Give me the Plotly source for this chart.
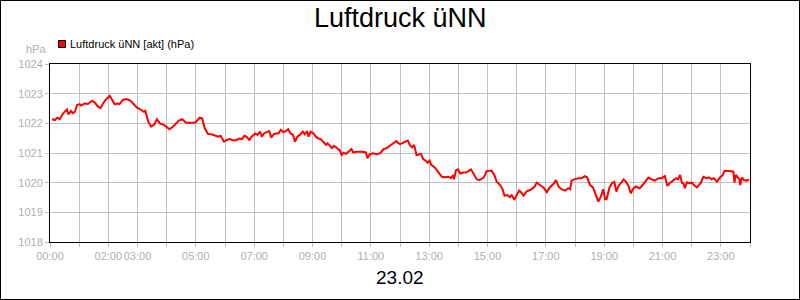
import plotly.graph_objects as go
import pandas as pd

DAY = "2021-02-23"
times = [
    "00:04","00:10","00:15","00:20","00:27","00:35","00:38","00:43","00:47","00:51","00:56",
    "01:01","01:04","01:11","01:18","01:27","01:32","01:39","01:44","01:49","01:56",
    "02:03","02:08","02:13","02:19","02:23","02:30","02:37","02:46","02:53","02:59",
    "03:08","03:13","03:16","03:22","03:28","03:35","03:40","03:46","03:55",
    "04:06","04:15","04:25","04:32","04:40","04:51","04:59",
    "05:08","05:13","05:18","05:25","05:32","05:39","05:46","05:51","05:56","05:58",
    "06:04","06:10","06:17","06:24","06:29","06:35","06:40","06:44","06:50","06:55",
    "07:02","07:07","07:12","07:16","07:20","07:26","07:31","07:35","07:40","07:45","07:50","07:55",
    "08:00","08:05","08:10","08:15","08:20","08:24","08:29","08:34","08:40","08:44","08:49","08:52","08:56",
    "09:02","09:07","09:12","09:17","09:22","09:28","09:31","09:36","09:40","09:44","09:50","09:53","09:56",
    "10:00","10:04","10:09","10:14","10:20","10:24","10:31","10:41","10:50","10:53","10:58",
    "11:05","11:12","11:19","11:26","11:32","11:40","11:46","11:53","11:55",
    "12:00","12:07","12:16","12:20","12:25","12:29","12:34","12:39","12:43","12:48","12:53","12:57",
    "13:01","13:04","13:11","13:17","13:26","13:32","13:40","13:45","13:49","13:51","13:55","13:59",
    "14:04","14:10","14:17","14:26","14:33","14:38","14:44","14:52","14:55","14:58",
    "15:08","15:14","15:19","15:26","15:31","15:35","15:41","15:46","15:50","15:55",
    "16:00","16:05","16:10","16:14","16:20","16:31","16:37","16:41","16:48","16:55",
    "17:02","17:08","17:16","17:21","17:26","17:32","17:40","17:46","17:50","17:53",
    "18:00","18:07","18:14","18:20","18:25","18:31","18:37","18:41","18:48","18:53","18:58",
    "19:02","19:05","19:11","19:16","19:21","19:25","19:29","19:36","19:40","19:45","19:50","19:55","19:59",
    "20:05","20:13","20:19","20:26","20:31","20:38","20:44","20:52","20:58",
    "21:05","21:10","21:16","21:22","21:28","21:32","21:36","21:40","21:43","21:46","21:50","21:55",
    "22:00","22:07","22:11","22:19","22:24","22:31","22:36","22:41","22:46","22:52","22:57",
    "23:04","23:08","23:16","23:22","23:26","23:28","23:31","23:34","23:38","23:40","23:43","23:47","23:53","23:58",
]
pressure = [
    1022.14,1022.11,1022.19,1022.14,1022.34,1022.47,1022.30,1022.42,1022.34,1022.39,1022.62,
    1022.65,1022.60,1022.67,1022.65,1022.76,1022.70,1022.56,1022.51,1022.67,1022.82,
    1022.93,1022.79,1022.64,1022.67,1022.65,1022.79,1022.82,1022.76,1022.64,1022.53,
    1022.45,1022.39,1022.42,1022.06,1021.89,1021.97,1022.14,1022.00,1021.94,
    1021.80,1021.92,1022.09,1022.14,1022.02,1022.02,1022.03,
    1022.19,1022.17,1021.85,1021.64,1021.63,1021.58,1021.55,1021.58,1021.46,1021.38,
    1021.44,1021.47,1021.42,1021.44,1021.49,1021.47,1021.58,1021.55,1021.44,1021.55,
    1021.66,1021.61,1021.72,1021.55,1021.66,1021.70,1021.74,1021.52,1021.63,1021.66,1021.66,1021.78,
    1021.70,1021.74,1021.80,1021.66,1021.61,1021.38,1021.55,1021.61,1021.72,1021.63,1021.74,1021.55,1021.72,
    1021.66,1021.55,1021.49,1021.47,1021.38,1021.27,1021.33,1021.25,1021.16,1021.24,1021.18,1021.12,1021.10,
    1020.93,1021.01,1020.97,1021.04,1021.13,1021.02,1021.04,1021.04,1021.02,1020.82,1020.96,
    1020.99,1020.96,1020.99,1021.13,1021.16,1021.27,1021.33,1021.40,1021.35,
    1021.30,1021.35,1021.42,1021.27,1021.19,1021.27,1020.93,1020.95,1020.97,1020.79,1020.74,1020.67,
    1020.74,1020.60,1020.52,1020.40,1020.20,1020.18,1020.20,1020.15,1020.26,1020.11,1020.41,1020.45,
    1020.31,1020.34,1020.35,1020.45,1020.26,1020.11,1020.09,1020.17,1020.26,1020.39,
    1020.41,1020.26,1020.03,1019.92,1019.78,1019.56,1019.58,1019.51,1019.58,1019.42,
    1019.58,1019.73,1019.66,1019.56,1019.70,1019.78,1019.87,1020.00,1019.92,1019.84,
    1019.68,1019.84,1019.96,1020.09,1019.87,1019.78,1019.73,1019.81,1019.78,1020.07,
    1020.12,1020.15,1020.15,1020.22,1020.18,1019.92,1019.84,1019.64,1019.36,1019.53,1019.78,
    1019.44,1019.44,1019.84,1019.98,1020.03,1019.70,1019.87,1020.01,1020.11,1020.03,1019.89,1019.64,1019.78,
    1019.87,1019.81,1019.92,1020.09,1020.17,1020.11,1020.07,1020.15,1020.15,
    1020.22,1019.89,1020.00,1020.09,1020.15,1020.11,1020.26,1020.00,1019.98,1019.81,1020.01,1019.98,
    1020.00,1019.89,1019.84,1020.00,1020.20,1020.15,1020.18,1020.11,1020.15,1020.03,1020.15,
    1020.26,1020.40,1020.39,1020.39,1020.37,1020.00,1020.26,1020.20,1020.11,1019.92,1020.18,1020.09,1020.07,1020.11,
]
tick_hours = list(range(25))
tick_labels = ["00:00","","02:00","03:00","","05:00","","07:00","","09:00","","11:00","",
               "13:00","","15:00","","17:00","","19:00","","21:00","","23:00",""]
y_ticks = [1018, 1019, 1020, 1021, 1022, 1023, 1024]

title_text = "Luftdruck üNN"
date_text = "23.02"
legend_text = "Luftdruck üNN [akt] (hPa)"
unit_text = "hPa"

x = pd.to_datetime([f"{DAY} {t}" for t in times])
day0 = pd.Timestamp(DAY)
tickvals = [day0 + pd.Timedelta(hours=h) for h in tick_hours]

FONT = "Liberation Sans, Arial, sans-serif"
GRAY = "#b0b0b0"
GRID = "#c0c0c0"

fig = go.Figure()
fig.add_trace(go.Scatter(x=x, y=pressure, mode="lines",
                         line=dict(color="#ff0000", width=2), showlegend=False))

W, H = 800, 300
L, R, T, B = 50, 50, 64, 58
pw, ph = W - L - R, H - T - B

def px(xp):
    return (xp - L) / pw

def py(yp):
    return (H - B - yp) / ph

fig.update_layout(
    width=W, height=H,
    margin=dict(l=L, r=R, t=T, b=B),
    paper_bgcolor="white", plot_bgcolor="white",
    font=dict(family=FONT, size=11, color=GRAY),
    xaxis=dict(range=[tickvals[0], tickvals[-1]], tickvals=tickvals, ticktext=tick_labels,
               tickangle=0,
               showgrid=True, gridcolor=GRID, gridwidth=1,
               ticks="outside", ticklen=4, tickcolor=GRID,
               showline=True, linecolor="black", linewidth=1, mirror=True,
               zeroline=False, tickfont=dict(color=GRAY, size=11, family=FONT)),
    yaxis=dict(range=[1018, 1024], tickvals=y_ticks,
               showgrid=True, gridcolor=GRID, gridwidth=1,
               ticks="outside", ticklen=4, tickcolor=GRID,
               showline=True, linecolor="black", linewidth=1, mirror=True,
               zeroline=False, tickfont=dict(color=GRAY, size=11, family=FONT)),
)

# outer frame
fig.add_shape(type="rect", xref="paper", yref="paper",
              x0=px(0.5), x1=px(799.5), y0=py(299.5), y1=py(0.5),
              line=dict(color="black", width=1), fillcolor="rgba(0,0,0,0)", layer="above")
# legend marker
fig.add_shape(type="rect", xref="paper", yref="paper",
              x0=px(58.5), x1=px(65.5), y0=py(47.5), y1=py(40.5),
              line=dict(color="black", width=1), fillcolor="#ff0000")

fig.add_annotation(text=legend_text, xref="paper", yref="paper", x=px(68), y=py(44),
                   xanchor="left", yanchor="middle", showarrow=False,
                   font=dict(family=FONT, size=11, color="black"))
fig.add_annotation(text=unit_text, xref="paper", yref="paper", x=px(48), y=py(49.5),
                   xanchor="right", yanchor="middle", showarrow=False,
                   font=dict(family=FONT, size=11, color=GRAY))
fig.add_annotation(text=title_text, xref="paper", yref="paper", x=px(400), y=py(18),
                   xanchor="center", yanchor="middle", showarrow=False,
                   font=dict(family=FONT, size=27, color="black"))
fig.add_annotation(text=date_text, xref="paper", yref="paper", x=px(400), y=py(277),
                   xanchor="center", yanchor="middle", showarrow=False,
                   font=dict(family=FONT, size=19, color="black"))

fig.write_html("out.html")
